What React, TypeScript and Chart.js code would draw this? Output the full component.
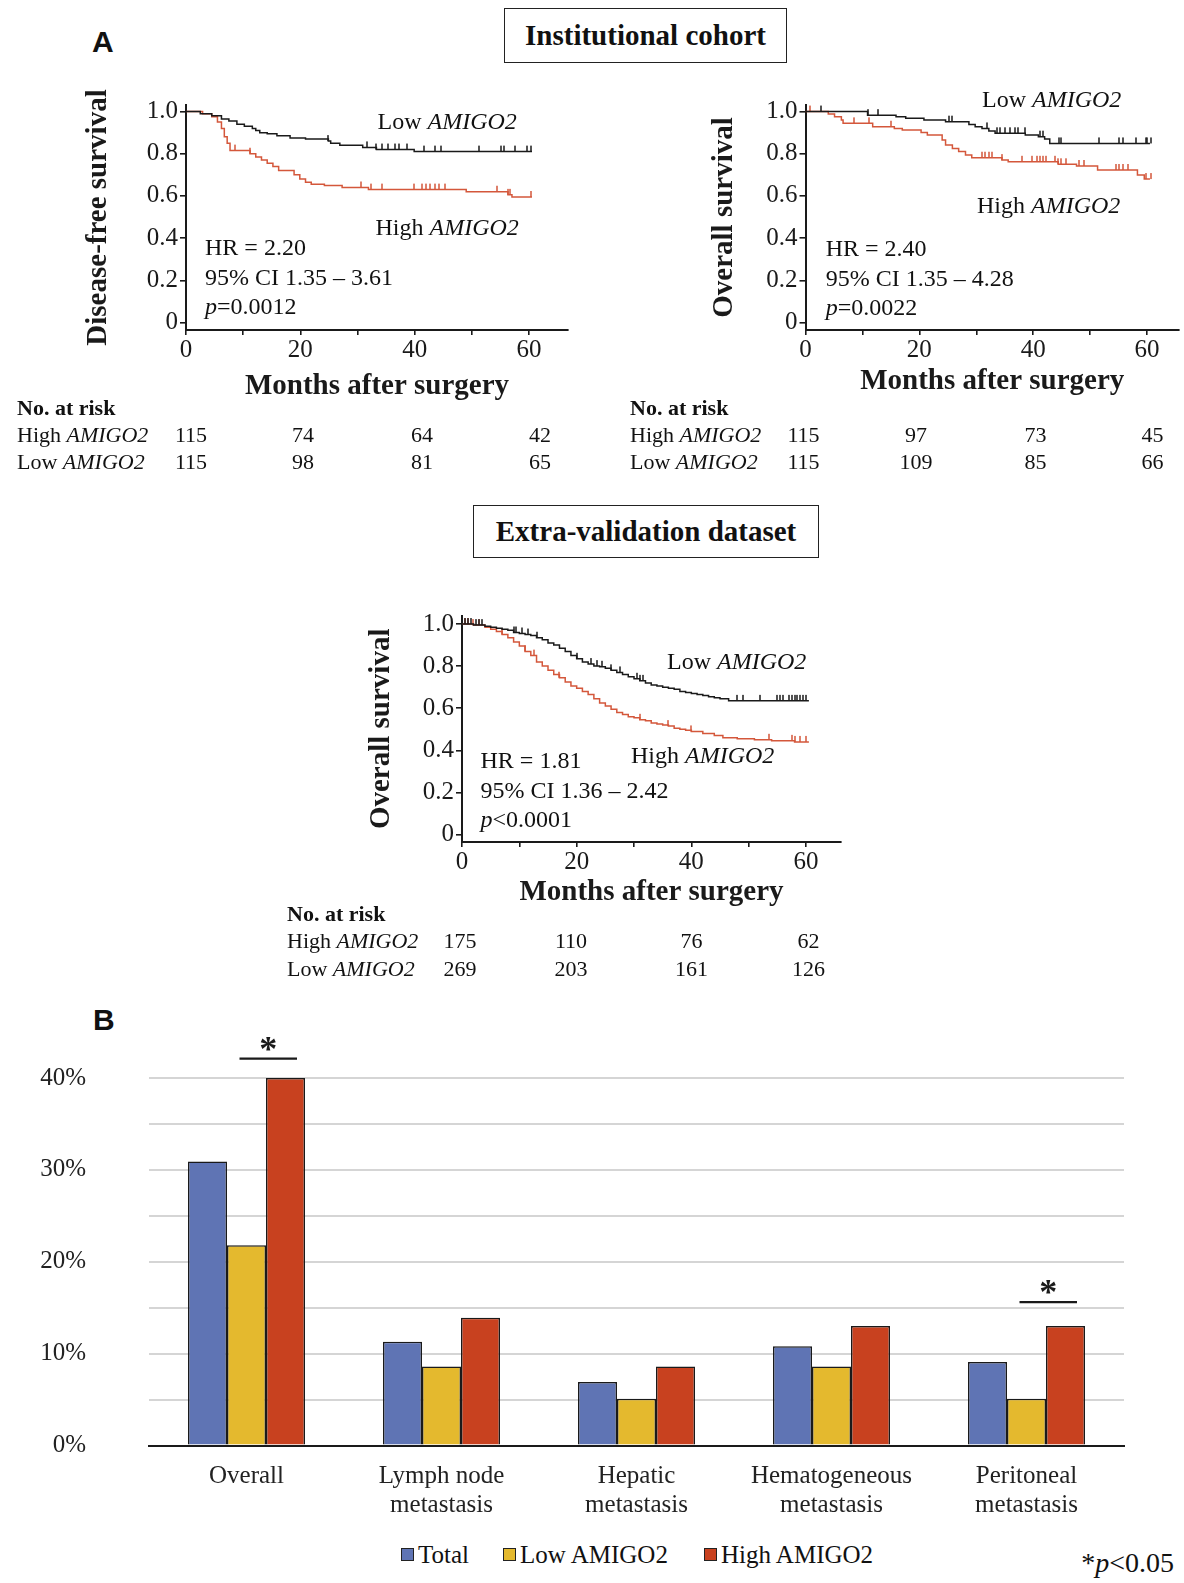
import React, { useEffect, useRef } from 'react';
import { Chart, registerables } from 'chart.js';

Chart.register(...registerables);

const SERIF = '"Liberation Serif", "Times New Roman", Times, serif';
const SANS = '"Liberation Sans", Arial, Helvetica, sans-serif';
const INK = '#1a1a1a';
const KM_RED = '#d4573b';

// ---------- Kaplan-Meier data (months, survival) ----------
const dfsLowTimes = [2.5, 4.5, 6.2, 7.5, 8.9, 10.2, 11.6, 12.2, 12.9, 14.2, 15.9, 18.2, 20.9, 24.9, 25.3, 26.9, 30.9, 33.3, 39.9];
const dfsLowSurv = [0.99, 0.98, 0.965, 0.955, 0.94, 0.93, 0.92, 0.91, 0.9, 0.895, 0.885, 0.875, 0.87, 0.86, 0.85, 0.84, 0.83, 0.82, 0.81];
const dfsLowCensor = [24.9, 31.6, 33.3, 34.3, 35.3, 36.6, 37.3, 38.6, 41.6, 43.6, 44.6, 51.3, 55, 55.6, 57.6, 59.7, 60.3];

const dfsHighTimes = [2.9, 4.5, 5.5, 6.2, 6.7, 7.2, 7.7, 11.2, 12.2, 13.2, 14.2, 15.2, 16.2, 18.9, 19.9, 20.9, 21.9, 24.2, 27.3, 31.9, 49, 56.3, 57];
const dfsHighSurv = [0.99, 0.975, 0.95, 0.92, 0.88, 0.85, 0.815, 0.8, 0.785, 0.77, 0.755, 0.74, 0.72, 0.7, 0.68, 0.665, 0.655, 0.65, 0.64, 0.63, 0.62, 0.605, 0.595];
const dfsHighCensor = [8.6, 11.2, 30.6, 32.3, 34.3, 39.9, 41.3, 42, 42.6, 43.6, 44.3, 45.3, 54.3, 56.3, 56.6, 60.3];

const osLowTimes = [10.9, 15.9, 17.6, 20.8, 24.6, 28.7, 29.8, 31, 32.2, 33.3, 38.6, 40.9, 42, 42.9];
const osLowSurv = [0.983, 0.975, 0.968, 0.96, 0.952, 0.939, 0.928, 0.92, 0.908, 0.897, 0.889, 0.881, 0.87, 0.849];
const osLowCensor = [2.8, 10.95, 12.7, 25.2, 25.8, 31.9, 33.6, 34.2, 35.1, 36, 36.8, 37.4, 38.5, 41.2, 41.7, 44.6, 44.9, 51.6, 55.1, 55.7, 58, 59.8, 60, 60.6];

const osHighTimes = [4.0, 5.1, 6.3, 6.6, 11.8, 15.6, 17, 20.3, 21.4, 24, 24.6, 25.8, 26.9, 28.1, 29.2, 34.5, 35.6, 44.4, 47.6, 51.3, 58.3, 59.5];
const osHighSurv = [0.988, 0.975, 0.96, 0.944, 0.928, 0.92, 0.912, 0.901, 0.889, 0.865, 0.841, 0.825, 0.81, 0.794, 0.781, 0.77, 0.762, 0.75, 0.742, 0.723, 0.699, 0.68];
const osHighCensor = [0.8, 8.6, 11.2, 15, 31, 31.6, 32.2, 32.7, 34.5, 38, 39.7, 40.6, 41.2, 41.7, 42.3, 43.8, 44.4, 44.9, 45.8, 48.1, 49, 54.5, 55.1, 55.7, 56.6, 59.8, 60.6];

const valLowTimes = [2, 4, 5, 6, 7, 8, 9, 10, 11, 12, 13, 14, 15, 16, 17, 18, 19, 20, 21, 22, 23, 24, 25, 26, 27, 28, 29, 30, 31, 32, 33, 34, 35, 36, 37, 38, 39, 40, 41, 42, 43, 44, 45, 46.5];
const valLowSurv = [0.995, 0.99, 0.985, 0.98, 0.975, 0.97, 0.96, 0.955, 0.95, 0.945, 0.935, 0.925, 0.91, 0.9, 0.885, 0.87, 0.85, 0.835, 0.82, 0.81, 0.8, 0.797, 0.79, 0.78, 0.77, 0.76, 0.75, 0.74, 0.73, 0.72, 0.71, 0.705, 0.7, 0.695, 0.69, 0.68, 0.675, 0.67, 0.665, 0.66, 0.655, 0.65, 0.645, 0.635];
const valLowCensor = [0.5, 1, 1.5, 2.5, 3, 3.5, 9, 9.5, 10.5, 11.5, 13, 20, 22.5, 23.5, 24.5, 26, 27.5, 30.5, 31, 31.5, 48, 49, 52, 55, 55.5, 56, 57, 57.5, 58, 58.5, 59, 59.5, 60];

const valHighTimes = [2, 4, 5, 6, 7, 8, 9, 10, 11, 12, 13, 14, 15, 16, 17, 18, 19, 20, 21, 22, 23, 24, 25, 26, 27, 28, 29, 30, 31, 32, 33, 34, 35, 36, 37, 38, 39, 40, 42, 44, 45.5, 48, 51, 54, 58];
const valHighSurv = [0.995, 0.985, 0.975, 0.965, 0.95, 0.935, 0.915, 0.895, 0.87, 0.85, 0.82, 0.8, 0.78, 0.76, 0.745, 0.725, 0.705, 0.695, 0.68, 0.665, 0.645, 0.625, 0.61, 0.595, 0.58, 0.57, 0.56, 0.555, 0.545, 0.54, 0.53, 0.525, 0.52, 0.515, 0.505, 0.5, 0.495, 0.49, 0.48, 0.47, 0.46, 0.455, 0.45, 0.445, 0.44];
const valHighCensor = [0.5, 1, 2, 3, 7, 11, 12.5, 17, 31, 36, 40, 53.5, 57.5, 58, 59, 60];

const KM_END = 60.5;
const kmXTicks = [0, 10, 20, 30, 40, 50, 60];
const kmYTicks = [0, 0.2, 0.4, 0.6, 0.8, 1.0];

// ---------- Numbers at risk ----------
const dfsRiskHigh = [115, 74, 64, 42];
const dfsRiskLow = [115, 98, 81, 65];
const osRiskHigh = [115, 97, 73, 45];
const osRiskLow = [115, 109, 85, 66];
const valRiskHigh = [175, 110, 76, 62];
const valRiskLow = [269, 203, 161, 126];

// ---------- Bar chart (panel B) ----------
const barCategories = [['Overall'], ['Lymph node', 'metastasis'], ['Hepatic', 'metastasis'], ['Hematogeneous', 'metastasis'], ['Peritoneal', 'metastasis']];
const barSeriesNames = ['Total', 'Low AMIGO2', 'High AMIGO2'];
const totalRates = [30.9, 11.3, 6.9, 10.8, 9.1];
const lowRates = [21.8, 8.6, 5.1, 8.6, 5.1];
const highRates = [40.0, 13.9, 8.6, 13.0, 13.0];
const barColors = ['#5f74b4', '#e4b92e', '#c8411f'];
const sigCategoryIndex = [0, 4];
const sigLineLevels = [42.1, 15.6];

// ---------- helpers ----------
function stepPoints(times: number[], surv: number[]) {
  const pts = [{ x: 0, y: 1 }];
  times.forEach((t, i) => pts.push({ x: t, y: surv[i] }));
  pts.push({ x: KM_END, y: surv[surv.length - 1] });
  return pts;
}
function survAt(times: number[], surv: number[], t: number) {
  let s = 1;
  for (let i = 0; i < times.length; i++) if (times[i] <= t) s = surv[i];
  return s;
}
function tickImage(color: string) {
  const c = document.createElement('canvas');
  c.width = 2;
  c.height = 14;
  const g = c.getContext('2d')!;
  g.fillStyle = color;
  g.fillRect(0.25, 1, 1.5, 6);
  return c;
}

type Series = { times: number[]; surv: number[]; censor: number[]; color: string };
type KMProps = {
  left: number; top: number; width: number; height: number;
  area: { left: number; right: number; top: number; bottom: number };
  xMax: number; yMin: number; yMax: number;
  yTitle: string; yTitleX: number; xTitleY: number;
  series: Series[];
};

function KMChart(p: KMProps) {
  const ref = useRef<HTMLCanvasElement>(null);
  useEffect(() => {
    const titleFont = { family: SERIF, size: 29, weight: 'bold' as const, lineHeight: 1.2 };
    const tickFont = { family: SERIF, size: 25 };
    const datasets: any[] = [];
    p.series.forEach((s) => {
      datasets.push({
        data: stepPoints(s.times, s.surv), showLine: true, stepped: 'before',
        borderColor: s.color, borderWidth: 1.5, pointRadius: 0, pointHoverRadius: 0, fill: false,
      });
      datasets.push({
        data: s.censor.map((t) => ({ x: t, y: survAt(s.times, s.surv, t) })), showLine: false,
        pointStyle: tickImage(s.color), pointRadius: 4, borderColor: s.color, backgroundColor: s.color, clip: false,
      });
    });
    const chart = new Chart(ref.current!, {
      type: 'scatter',
      data: { datasets },
      options: {
        responsive: false, animation: false, events: [],
        plugins: { legend: { display: false }, tooltip: { enabled: false } },
        layout: { padding: { left: 0, top: p.area.top, right: p.width - p.area.right, bottom: 0 } },
        scales: {
          x: {
            type: 'linear', min: 0, max: p.xMax,
            afterBuildTicks: (s: any) => { s.ticks = kmXTicks.map((v) => ({ value: v })); },
            afterFit: (s: any) => { s.height = p.height - p.area.bottom; },
            ticks: { callback: (v: any) => (v % 20 === 0 ? String(v) : ''), font: tickFont, color: INK, padding: 0, autoSkip: false, maxRotation: 0 },
            grid: { display: true, drawOnChartArea: false, drawTicks: true, tickLength: 5, color: INK, lineWidth: 1.6 },
            border: { display: true, color: INK, width: 2 },
            title: { display: true, text: 'Months after surgery', font: titleFont, color: INK, padding: { top: 0, bottom: p.height - p.xTitleY - 17.4 } },
          },
          y: {
            type: 'linear', min: p.yMin, max: p.yMax,
            afterBuildTicks: (s: any) => { s.ticks = kmYTicks.map((v) => ({ value: v })); },
            afterFit: (s: any) => { s.width = p.area.left; },
            ticks: { callback: (v: any) => (v === 0 ? '0' : Number(v).toFixed(1)), font: tickFont, color: INK, padding: 2, autoSkip: false },
            grid: { display: true, drawOnChartArea: false, drawTicks: true, tickLength: 6, color: INK, lineWidth: 1.6 },
            border: { display: true, color: INK, width: 2 },
            title: { display: true, text: p.yTitle, font: titleFont, color: INK, padding: { top: p.yTitleX - 17.4, bottom: 0 } },
          },
        },
      } as any,
    });
    return () => chart.destroy();
  }, []);
  return (
    <canvas ref={ref} width={p.width} height={p.height}
      style={{ position: 'absolute', left: p.left, top: p.top, width: p.width, height: p.height }} />
  );
}

const sigPlugin = {
  id: 'sigMarks',
  afterDatasetsDraw(chart: any) {
    const ctx = chart.ctx;
    const low = chart.getDatasetMeta(1).data;
    const high = chart.getDatasetMeta(2).data;
    const ys = chart.scales.y;
    sigCategoryIndex.forEach((ci, k) => {
      const lb = low[ci];
      const hb = high[ci];
      const x0 = lb.x - 7;
      const x1 = hb.x + hb.width / 2 - 8;
      const yy = ys.getPixelForValue(sigLineLevels[k]);
      ctx.save();
      ctx.strokeStyle = INK;
      ctx.lineWidth = 2.2;
      ctx.beginPath();
      ctx.moveTo(x0, yy);
      ctx.lineTo(x1, yy);
      ctx.stroke();
      ctx.fillStyle = INK;
      ctx.font = `bold 36px ${SERIF}`;
      ctx.textAlign = 'center';
      ctx.textBaseline = 'alphabetic';
      ctx.fillText('*', (x0 + x1) / 2, yy + 2);
      ctx.restore();
    });
  },
};

function BarChart() {
  const ref = useRef<HTMLCanvasElement>(null);
  const W = 1184, H = 540;
  useEffect(() => {
    const font = { family: SERIF, size: 25, lineHeight: 1.16 };
    const values = [totalRates, lowRates, highRates];
    const chart = new Chart(ref.current!, {
      type: 'bar',
      data: {
        labels: barCategories as any,
        datasets: barSeriesNames.map((name, i) => ({
          label: name, data: values[i], backgroundColor: barColors[i], borderColor: INK, borderWidth: 1.5,
          categoryPercentage: 0.6, barPercentage: 1.0,
        })),
      },
      options: {
        responsive: false, animation: false, events: [],
        plugins: { legend: { display: false }, tooltip: { enabled: false } },
        layout: { padding: { left: 0, top: 75, right: 60, bottom: 0 } },
        scales: {
          x: {
            afterFit: (s: any) => { s.height = 94.5; },
            grid: { display: false },
            border: { display: true, color: INK, width: 2 },
            ticks: { font, color: '#222', padding: 8, autoSkip: false, maxRotation: 0 },
          },
          y: {
            min: 0, max: 40,
            afterFit: (s: any) => { s.width = 149; },
            ticks: { stepSize: 5, callback: (v: any) => (v % 10 === 0 ? `${v}%` : ''), font: { family: SERIF, size: 25 }, color: '#222', padding: 63 },
            grid: { color: (c: any) => (c.tick && c.tick.value === 0 ? 'rgba(0,0,0,0)' : '#d5d5d5'), lineWidth: 2, drawTicks: false },
            border: { display: false },
          },
        },
      } as any,
      plugins: [sigPlugin],
    });
    return () => chart.destroy();
  }, []);
  return <canvas ref={ref} width={W} height={H} style={{ position: 'absolute', left: 0, top: 1000, width: W, height: H }} />;
}

type TxtProps = { x: number; y: number; size: number; bold?: boolean; align?: 'left' | 'center' | 'right'; family?: string; children: React.ReactNode };
function Txt({ x, y, size, bold, align = 'left', family = SERIF, children }: TxtProps) {
  const tx = align === 'center' ? 'translateX(-50%)' : align === 'right' ? 'translateX(-100%)' : 'none';
  return (
    <div style={{
      position: 'absolute', left: x, top: y - 0.6 * size, fontFamily: family, fontSize: size, lineHeight: `${1.2 * size}px`,
      fontWeight: bold ? 'bold' : 'normal', whiteSpace: 'nowrap', color: '#111', transform: tx,
    }}>{children}</div>
  );
}

const AM = <i>AMIGO2</i>;

function RiskTable({ left, rows, cols, high, low }: { left: number; rows: number[]; cols: number[]; high: number[]; low: number[] }) {
  return (
    <>
      <Txt x={left} y={rows[0]} size={22} bold>No. at risk</Txt>
      <Txt x={left} y={rows[1]} size={22}>High {AM}</Txt>
      <Txt x={left} y={rows[2]} size={22}>Low {AM}</Txt>
      {high.map((n, i) => <Txt key={'h' + i} x={cols[i]} y={rows[1]} size={22} align="center">{n}</Txt>)}
      {low.map((n, i) => <Txt key={'l' + i} x={cols[i]} y={rows[2]} size={22} align="center">{n}</Txt>)}
    </>
  );
}

function KMNotes({ low, high, hr, hrText, ciText, pText }: { low: [number, number]; high: [number, number]; hr: [number, number]; hrText: string; ciText: string; pText: string }) {
  return (
    <>
      <Txt x={low[0]} y={low[1]} size={24}>Low {AM}</Txt>
      <Txt x={high[0]} y={high[1]} size={24}>High {AM}</Txt>
      <Txt x={hr[0]} y={hr[1]} size={24}>{hrText}</Txt>
      <Txt x={hr[0]} y={hr[1] + 30} size={24}>{ciText}</Txt>
      <Txt x={hr[0]} y={hr[1] + 59} size={24}><i>p</i>{pText}</Txt>
    </>
  );
}

function TitleBox({ left, top, width, height, text }: { left: number; top: number; width: number; height: number; text: string }) {
  return (
    <div style={{
      position: 'absolute', left, top, width, height, boxSizing: 'border-box', border: '1.5px solid #222',
      display: 'flex', alignItems: 'center', justifyContent: 'center',
      fontFamily: SERIF, fontWeight: 'bold', fontSize: 29, color: '#111', whiteSpace: 'nowrap',
    }}>{text}</div>
  );
}

export default function App() {
  const legendLeft = [401, 503, 704];
  return (
    <div style={{ position: 'absolute', left: 0, top: 0, width: 1184, height: 1583, background: '#fff', overflow: 'hidden' }}>
      <Txt x={92} y={42} size={30} bold family={SANS}>A</Txt>
      <TitleBox left={504} top={8} width={283} height={55} text="Institutional cohort" />

      <KMChart left={0} top={85} width={600} height={325}
        area={{ left: 186, right: 568, top: 20, bottom: 245 }}
        xMax={66.8} yMin={-0.0355} yMax={1.031}
        yTitle="Disease-free survival" yTitleX={99} xTitleY={302}
        series={[
          { times: dfsLowTimes, surv: dfsLowSurv, censor: dfsLowCensor, color: INK },
          { times: dfsHighTimes, surv: dfsHighSurv, censor: dfsHighCensor, color: KM_RED },
        ]} />
      <KMNotes low={[377.5, 121]} high={[375.5, 227]} hr={[205, 247]} hrText="HR = 2.20" ciText="95% CI 1.35 – 3.61" pText="=0.0012" />
      <RiskTable left={17} rows={[408, 435, 462]} cols={[191, 303, 422, 540]} high={dfsRiskHigh} low={dfsRiskLow} />

      <KMChart left={600} top={85} width={584} height={325}
        area={{ left: 205.5, right: 582, top: 20, bottom: 245 }}
        xMax={65.6} yMin={-0.0355} yMax={1.031}
        yTitle="Overall survival" yTitleX={125} xTitleY={296.5}
        series={[
          { times: osLowTimes, surv: osLowSurv, censor: osLowCensor, color: INK },
          { times: osHighTimes, surv: osHighSurv, censor: osHighCensor, color: KM_RED },
        ]} />
      <KMNotes low={[982, 99]} high={[977, 205]} hr={[825.7, 248]} hrText="HR = 2.40" ciText="95% CI 1.35 – 4.28" pText="=0.0022" />
      <RiskTable left={630} rows={[408, 435, 462]} cols={[803.5, 916, 1035.5, 1152.5]} high={osRiskHigh} low={osRiskLow} />

      <TitleBox left={473} top={505} width={346} height={53} text="Extra-validation dataset" />
      <KMChart left={270} top={595} width={600} height={320}
        area={{ left: 192, right: 571, top: 20.6, bottom: 247 }}
        xMax={66.1} yMin={-0.0355} yMax={1.04}
        yTitle="Overall survival" yTitleX={111.5} xTitleY={298}
        series={[
          { times: valLowTimes, surv: valLowSurv, censor: valLowCensor, color: INK },
          { times: valHighTimes, surv: valHighSurv, censor: valHighCensor, color: KM_RED },
        ]} />
      <KMNotes low={[667, 661]} high={[631, 755]} hr={[480.5, 760]} hrText="HR = 1.81" ciText="95% CI 1.36 – 2.42" pText="<0.0001" />
      <RiskTable left={287} rows={[914.5, 941, 969]} cols={[460, 571, 691.5, 808.5]} high={valRiskHigh} low={valRiskLow} />

      <Txt x={93} y={1019.5} size={30} bold family={SANS}>B</Txt>
      <BarChart />
      {barSeriesNames.map((name, i) => (
        <React.Fragment key={name}>
          <div style={{ position: 'absolute', left: legendLeft[i], top: 1548, width: 13, height: 13, boxSizing: 'border-box', border: '1.5px solid #222', background: barColors[i] }} />
          <Txt x={legendLeft[i] + 17} y={1554.5} size={25}>{name}</Txt>
        </React.Fragment>
      ))}
      <Txt x={1174} y={1562.5} size={28} align="right">*<i>p</i>&lt;0.05</Txt>
    </div>
  );
}
